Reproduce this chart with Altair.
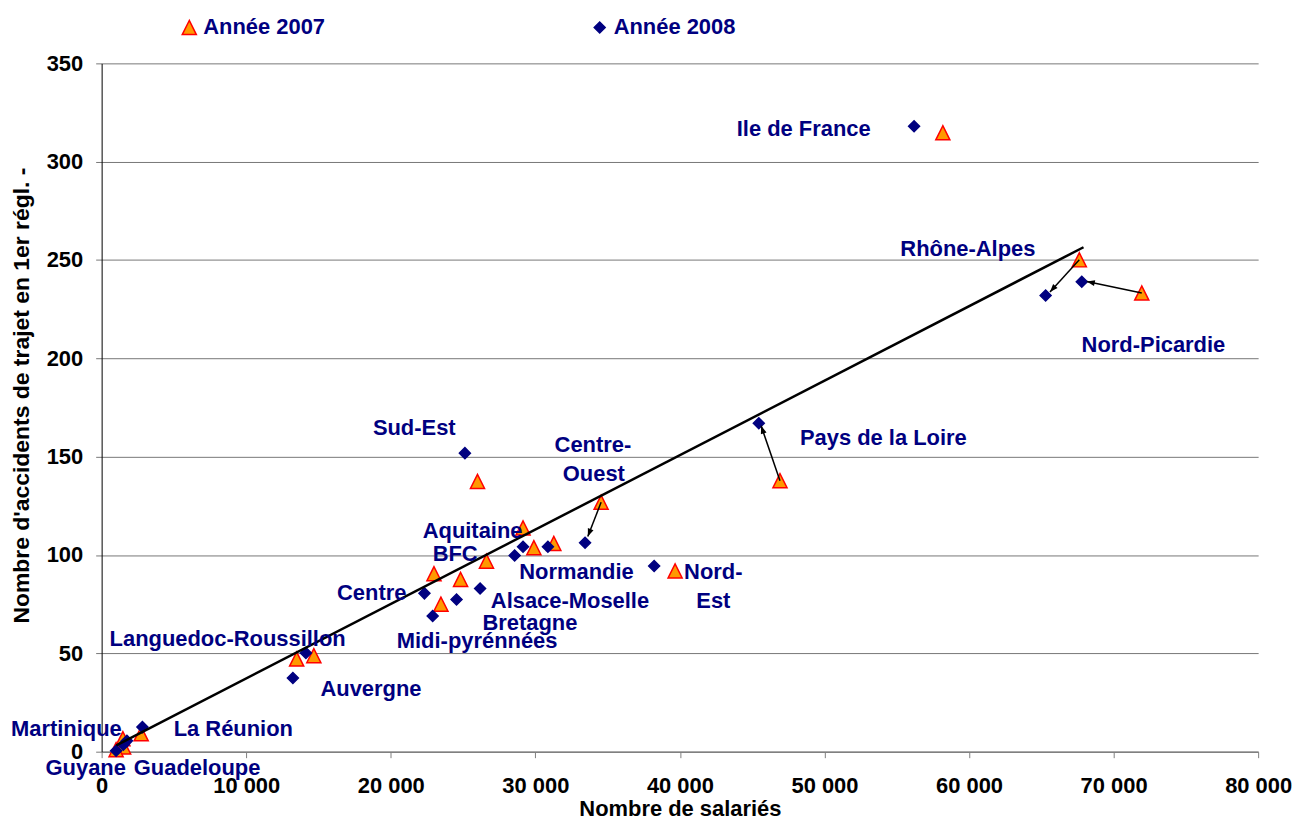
import math
import altair as alt
import pandas as pd

# ---------------- data ----------------
SERIES = ["Année 2007", "Année 2008"]

x_2007 = [58190, 67630, 71950, 46925, 26000, 34550, 39670, 29150, 29900, 31280,
          26620, 22990, 24830, 23470, 13490, 14680, 2735, 1470, 1520, 1000]
y_2007 = [314.7, 250.1, 233.2, 137.8, 137.4, 126.8, 91.9, 113.8, 103.7, 105.9,
          96.9, 90.5, 87.6, 75.0, 47.1, 48.8, 9.1, 6.6, 2.4, 1.0]

x_2008 = [56200, 65300, 67800, 45460, 25130, 33440, 38220, 29150, 28570, 30870,
          22330, 24550, 26180, 22900, 14130, 13230, 2820, 1750, 1500, 1000]
y_2008 = [318.0, 232.0, 239.0, 167.0, 151.8, 106.2, 94.4, 104.2, 99.8, 104.2,
          80.5, 77.4, 83.0, 69.0, 50.2, 37.5, 12.5, 5.5, 3.5, 0.5]

label_text = ["Ile de France", "Rhône-Alpes", "Nord-Picardie", "Pays de la Loire",
              "Sud-Est", "Centre-", "Ouest", "Aquitaine", "BFC", "Normandie",
              "Nord-", "Est", "Centre", "Alsace-Moselle", "Bretagne",
              "Midi-pyrénnées", "Languedoc-Roussillon", "Auvergne", "La Réunion",
              "Martinique", "Guyane", "Guadeloupe"]
label_x = [43935, 55249, 67790, 48303, 18763, 31332, 31903, 22208, 22897, 28892,
           40289, 41137, 16282, 26922, 26343, 20417, 551, 15139, 4982,
           -6270, -3879, 2226]
label_y = [316.4, 255.7, 206.7, 159.6, 164.6, 155.7, 141.4, 112.2, 100.7, 91.3,
           91.3, 76.6, 80.8, 76.6, 65.2, 56.2, 57.2, 31.9, 11.5,
           11.5, -8.3, -8.3]

# trend line end points
trend_x = [1013, 67920]
trend_y = [3.2, 256.5]

# arrows (2007 -> 2008): start and tip
arrow_x = [67630, 71950, 46925, 34550]
arrow_y = [250.1, 233.2, 137.8, 126.8]
arrow_x2 = [65600, 68150, 45620, 33630]
arrow_y2 = [233.8, 239.1, 165.7, 109.4]

# ---------------- chart ----------------
W, H = 1161, 691
XMAX, YMAX = 80000, 350
FONT = "Liberation Sans"
NAVY = "#000080"
TRI = "M0,-1L-1,1L1,1Z"
ARROW = "M0,0L-0.75,2L0.75,2Z"

pts = pd.DataFrame({
    "x": x_2007 + x_2008,
    "y": y_2007 + y_2008,
    "serie": [SERIES[0]] * len(x_2007) + [SERIES[1]] * len(x_2008),
})
labels = pd.DataFrame({"x": label_x, "y": label_y, "t": label_text})
trend = pd.DataFrame({"x": trend_x, "y": trend_y})

kx, ky = W / XMAX, H / YMAX
angles = []
for a, b, c, d in zip(arrow_x, arrow_y, arrow_x2, arrow_y2):
    dx = (c - a) * kx
    dy = -(d - b) * ky
    angles.append(math.degrees(math.atan2(dx, -dy)) % 360)
arrows = pd.DataFrame({"x": arrow_x, "y": arrow_y, "x2": arrow_x2, "y2": arrow_y2, "angle": angles})

xs = alt.Scale(domain=[0, XMAX], nice=False, zero=False)
ys = alt.Scale(domain=[0, YMAX], nice=False, zero=False)

x_axis = alt.Axis(
    title="Nombre de salariés",
    values=list(range(0, XMAX + 1, 10000)),
    labelExpr="replace(format(datum.value, ','), ',', ' ')",
    grid=False, domainColor="#808080", domainWidth=1.5,
    tickColor="#808080", tickSize=6, tickWidth=1,
    labelFont=FONT, labelFontSize=22, labelFontWeight="bold", labelColor="black",
    labelPadding=18, labelFlush=False, labelOverlap=False,
    titleFont=FONT, titleFontSize=22, titleFontWeight="bold", titleColor="black",
    titleBaseline="alphabetic", titleY=64,
)
y_axis = alt.Axis(
    title="Nombre d'accidents de trajet en 1er régl. -",
    values=list(range(0, YMAX + 1, 50)),
    grid=True, gridColor="#777777", gridWidth=1,
    domainColor="black", domainWidth=1,
    tickColor="#777777", tickSize=6,
    labelFont=FONT, labelFontSize=22, labelFontWeight="bold", labelColor="black",
    labelPadding=13, labelOverlap=False,
    titleFont=FONT, titleFontSize=23, titleFontWeight="bold", titleColor="black",
    titleAngle=270, titleX=-73, titleY=333, titleBaseline="alphabetic", titleAlign="center",
)

leg = alt.Legend(
    title=None, orient="none", legendX=77, legendY=-47, direction="horizontal",
    columns=2, columnPadding=264, padding=0, labelOffset=3,
    labelFont=FONT, labelFontSize=22, labelFontWeight="bold", labelColor=NAVY,
    symbolStrokeWidth=1.5, symbolOpacity=1,
)

points = alt.Chart(pts).mark_point(filled=True, opacity=1, strokeWidth=1.5).encode(
    x=alt.X("x:Q", scale=xs, axis=x_axis),
    y=alt.Y("y:Q", scale=ys, axis=y_axis),
    shape=alt.Shape("serie:N", scale=alt.Scale(domain=SERIES, range=[TRI, "diamond"]), legend=leg),
    fill=alt.Fill("serie:N", scale=alt.Scale(domain=SERIES, range=["#FF9900", NAVY]), legend=leg),
    stroke=alt.Stroke("serie:N", scale=alt.Scale(domain=SERIES, range=["#FF0000", NAVY]), legend=leg),
    size=alt.Size("serie:N", scale=alt.Scale(domain=SERIES, range=[200, 121]), legend=leg),
)

arrow_lines = alt.Chart(arrows).mark_rule(color="black", strokeWidth=1.5).encode(
    x=alt.X("x:Q", scale=xs, axis=x_axis),
    y=alt.Y("y:Q", scale=ys, axis=y_axis),
    x2="x2:Q", y2="y2:Q",
)
arrow_heads = alt.Chart(arrows).mark_point(
    shape=ARROW, filled=True, color="black", size=64, opacity=1, strokeWidth=0
).encode(
    x=alt.X("x2:Q", scale=xs, axis=x_axis),
    y=alt.Y("y2:Q", scale=ys, axis=y_axis),
    angle=alt.Angle("angle:Q", scale=None),
)

trend_line = alt.Chart(trend).mark_line(color="black", strokeWidth=2.5).encode(
    x=alt.X("x:Q", scale=xs, axis=x_axis),
    y=alt.Y("y:Q", scale=ys, axis=y_axis),
)

texts = alt.Chart(labels).mark_text(
    align="left", baseline="middle", font=FONT, fontSize=22, fontWeight="bold", color=NAVY
).encode(
    x=alt.X("x:Q", scale=xs, axis=x_axis),
    y=alt.Y("y:Q", scale=ys, axis=y_axis),
    text="t:N",
)

chart = alt.layer(points, arrow_lines, arrow_heads, trend_line, texts).properties(
    width=W, height=H,
    autosize=alt.AutoSizeParams(type="none"),
    padding={"left": 94, "top": 54, "right": 34, "bottom": 67},
).configure_view(stroke=None)

chart.save("out.html", embed_options={"renderer": "svg", "actions": False})
